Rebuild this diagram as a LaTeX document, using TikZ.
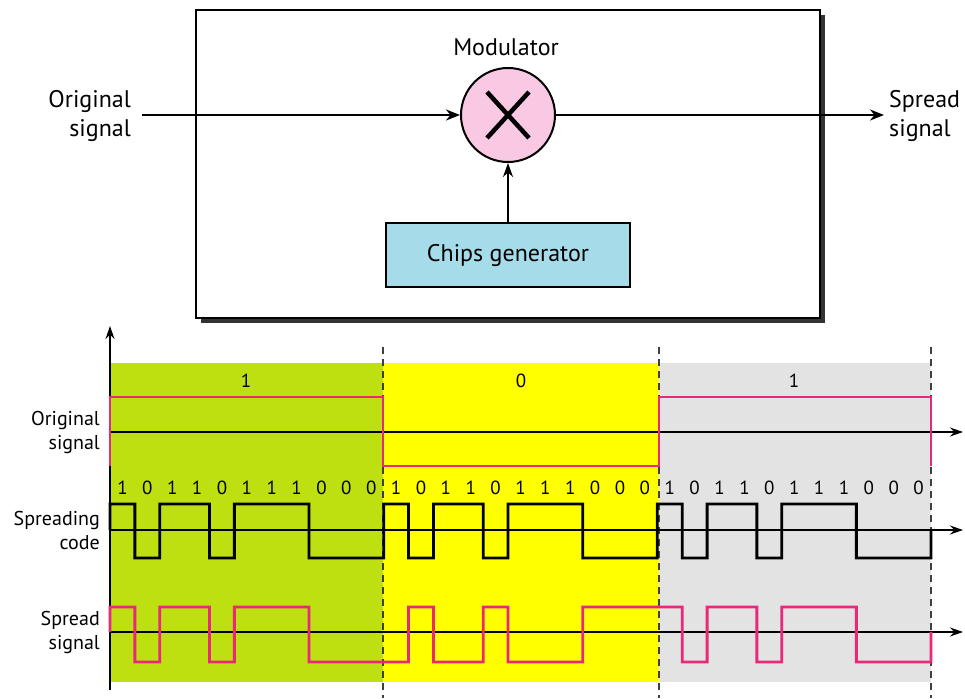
\documentclass[tikz,border=0pt]{standalone}
\usepackage{fontspec}
\setmainfont{PT Sans}
\usetikzlibrary{arrows.meta}
\definecolor{bitgreen}{RGB}{190,223,16}
\definecolor{bityellow}{RGB}{255,255,0}
\definecolor{bitgrey}{RGB}{227,227,227}
\definecolor{sigpink}{RGB}{234,40,122}
\definecolor{modpink}{RGB}{249,200,226}
\definecolor{chipblue}{RGB}{166,220,233}
\tikzset{
  bigtext/.style={font=\fontsize{24}{29}\selectfont, inner sep=0pt},
  smalltext/.style={font=\fontsize{20}{24}\selectfont, inner sep=0pt},
  chiptext/.style={font=\fontsize{19}{22}\selectfont, inner sep=0pt},
  flowarrow/.style={line width=2.4pt, -{Stealth[length=14pt,width=11pt]}},
  axisarrow/.style={line width=1.4pt, -{Stealth[length=13pt,width=9pt]}},
  dashline/.style={line width=1.5pt, draw=black!75, dash pattern=on 7pt off 5pt},
  wave/.style={line width=2.8pt, line join=miter},
}
\begin{document}
\begin{tikzpicture}[x=1pt,y=-1pt]
\useasboundingbox (0,0) rectangle (965,698);
% ---------- top block ----------
\fill[black!80] (201,15) rectangle (825,323);
\draw[line width=1.6pt, fill=white] (196,10) rectangle (820,318);
\node[circle, draw, line width=2pt, fill=modpink, minimum size=94pt, inner sep=0pt] (mod) at (508,115) {};
\draw[line width=4.5pt] ([shift={(-21,-23)}]mod.center) -- ([shift={(21,23)}]mod.center);
\draw[line width=4.5pt] ([shift={(-21,23)}]mod.center) -- ([shift={(21,-23)}]mod.center);
\node[bigtext] (modlbl) at (506,47) {Modulator};
\node[draw, line width=1.3pt, fill=chipblue, minimum width=244pt, minimum height=64pt, bigtext] (chips) at (508,255) {Chips generator};
\coordinate (inp) at (142,115);
\coordinate (outp) at (884,115);
\draw[flowarrow] (inp) -- (mod.west);
\draw[flowarrow] (mod.east) -- (outp);
\draw[line width=2pt, -{Stealth[length=14pt,width=10pt]}] (chips.north) -- (mod.south);
\node[bigtext, align=right, anchor=east] (inlbl) at (131,116) {Original\\signal};
\node[bigtext, align=left, anchor=west] (outlbl) at (889,116) {Spread\\signal};
% ---------- bottom timing ----------
\fill[bitgreen] (110,363) rectangle (383,682);
\fill[bityellow] (383,363) rectangle (659,682);
\fill[bitgrey] (659,363) rectangle (931,682);
\node[chiptext] (b1) at (246,381) {1};
\node[chiptext] (b2) at (521,381) {0};
\node[chiptext] (b3) at (794,381) {1};
% dashed bit boundaries
\coordinate (d1t) at (383,347); \coordinate (d1b) at (383,698);
\coordinate (d2t) at (659,347); \coordinate (d2b) at (659,698);
\coordinate (d3t) at (931,347); \coordinate (d3b) at (931,698);
\draw[dashline] (d1t) -- (d1b);
\draw[dashline] (d2t) -- (d2b);
\draw[dashline] (d3t) -- (d3b);
% axes
\coordinate (vax0) at (110,690); \coordinate (vax1) at (110,326);
\draw[axisarrow] (vax0) -- (vax1);
\coordinate (a1s) at (110,432); \coordinate (a1e) at (963,432);
\coordinate (a2s) at (110,530); \coordinate (a2e) at (963,530);
\coordinate (a3s) at (110,632); \coordinate (a3e) at (963,632);
\draw[axisarrow] (a1s) -- (a1e);
\draw[axisarrow] (a2s) -- (a2e);
\draw[axisarrow] (a3s) -- (a3e);
% original signal
\draw[wave, sigpink] (110,466) -- (110,397) -- (383,397) -- (383,466) -- (659,466) -- (659,397) -- (931,397) -- (931,466);
% chip labels
\foreach \v [count=\k from 0] in {1,0,1,1,0,1,1,1,0,0,0,1,0,1,1,0,1,1,1,0,0,0,1,0,1,1,0,1,1,1,0,0,0}
  \node[chiptext] (c\k) at ({110+(\k+0.5)*24.879},488) {\v};
% spreading code
\draw[wave, black] (110,530) \foreach \v [count=\k from 0] in {1,0,1,1,0,1,1,1,0,0,0,1,0,1,1,0,1,1,1,0,0,0,1,0,1,1,0,1,1,1,0,0,0}
  { -- ({110+\k*24.879},{558-54*\v}) -- ({110+(\k+1)*24.879},{558-54*\v}) } -- (931,530);
% spread signal
\draw[wave, sigpink] (110,632) \foreach \v [count=\k from 0] in {1,0,1,1,0,1,1,1,0,0,0,0,1,0,0,1,0,0,0,1,1,1,1,0,1,1,0,1,1,1,0,0,0}
  { -- ({110+\k*24.879},{662-55*\v}) -- ({110+(\k+1)*24.879},{662-55*\v}) } -- (931,632);
% labels
\node[smalltext, align=right, anchor=east] (l1) at (100,432) {Original\\signal};
\node[smalltext, align=right, anchor=east] (l2) at (100,530) {Spreading\\code};
\node[smalltext, align=right, anchor=east] (l3) at (100,632) {Spread\\signal};
\end{tikzpicture}
\end{document}
